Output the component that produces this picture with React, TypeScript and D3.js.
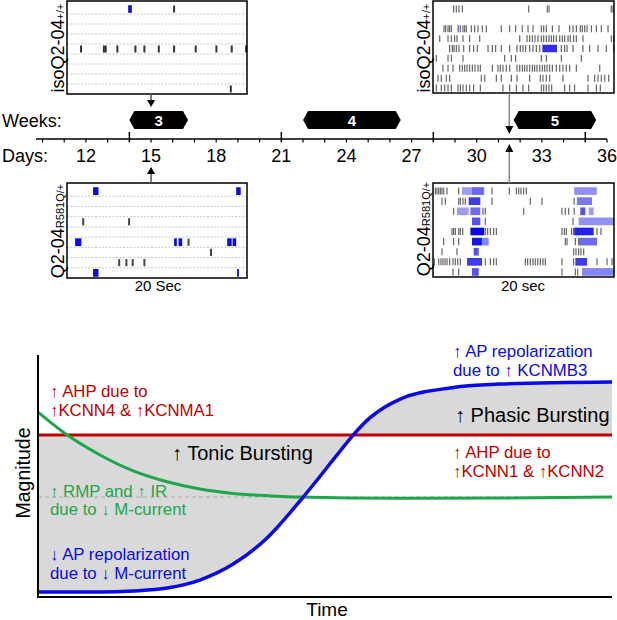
import * as d3 from 'd3'

const FONT = 'Arial, "Liberation Sans", sans-serif'

// ---- timeline ----
const dayLabels = [12, 15, 18, 21, 24, 27, 30, 33, 36]
const weekBounds = [14, 21, 28, 35]
const weekNums = ['3', '4', '5']
const weekStart = [14, 22, 31.7]
const weekEnd = [16.7, 26.5, 35.5]
const recordDays = [15, 31.5]

// ---- rasters (spike times in sec, 9 sweeps each) ----
const tlTicks: number[][] = [
  [11.9], [], [], [],
  [1.56, 4.1, 4.3, 5.6, 7.6, 8.6, 10.2, 11.9, 14.3, 16.6, 18.3, 19.9],
  [], [], [], [18.2],
]
const tlBursts: number[][][] = [[[6.8, 7.2, 1]], [], [], [], [], [], [], [], []]

const blTicks: number[][] = [
  [], [], [], [1.8, 6.9], [], [13.5], [16.0], [5.8, 6.6, 7.3, 8.6], [],
]
const blBursts: number[][][] = [
  [[2.9, 3.5, 1], [18.8, 19.3, 1]],
  [], [], [], [],
  [[0.9, 1.6, 1], [11.9, 12.2, 1], [12.4, 12.8, 1], [17.8, 18.3, 1], [18.4, 18.8, 1]],
  [], [],
  [[2.9, 3.5, 1], [18.9, 19.1, 1]],
]

const trTicks: number[][] = [
  [2.28, 2.58, 2.87, 3.24, 10.57, 12.63, 12.82, 19.7, 19.89],
  [],
  [1.22, 1.4, 1.66, 1.84, 2.03, 3.02, 3.31, 3.5, 3.68, 4.24, 4.6, 4.97, 5.45, 5.89, 7.55, 8.47, 9.13, 9.87, 10.5, 11.05, 11.97, 12.23, 12.52, 13.19, 13.92, 15.1, 15.47, 15.84, 16.28, 16.5, 16.76, 17.02, 17.5, 18.05, 18.6, 19.34],
  [0.74, 1.66, 2.03, 2.39, 2.65, 3.31, 4.05, 5.16, 9.58, 10.39, 10.68, 10.98, 11.27, 11.6, 11.97, 12.23, 12.52, 12.82, 13.08, 13.33, 13.63, 14, 14.29, 14.55, 14.92, 15.17, 15.54, 15.84, 16.57, 19.7, 19.96],
  [1.84, 2.14, 2.32, 2.58, 2.87, 3.39, 4.05, 4.49, 4.9, 6.08, 6.56, 6.92, 7.55, 8.47, 9.28, 9.65, 9.94, 10.24, 10.68, 11.05, 11.42, 11.79, 14.18, 14.55, 14.81, 15.47, 16.57, 17.31, 18.23, 19.15, 19.96],
  [0.37, 1.66, 2.03, 3.31, 7.92, 8.66, 9.13, 11.97, 12.52, 14.18, 16.39],
  [1.1, 1.66, 2.21, 2.95, 3.24, 3.5, 3.76, 4.05, 4.35, 4.64, 4.97, 5.23, 6.56, 7.18, 7.44, 7.73, 8.1, 8.47, 9.28, 9.58, 9.87, 10.13, 10.39, 10.68, 10.98, 11.23, 11.49, 11.79, 12.08, 12.34, 12.6, 12.89, 13.19, 13.63, 14, 14.36, 14.73, 15.1, 15.84, 18.42],
  [0.55, 0.92, 1.47, 1.84, 5.34, 5.71, 7.0, 7.55, 8.66, 9.28, 10.68, 11.86, 12.15, 12.52, 12.89, 14.36, 17.13, 17.86, 18.23, 18.6, 18.97, 19.41],
  [0.37, 0.92, 1.29, 1.66, 2.03, 2.76, 3.02, 3.31, 3.68, 4.05, 4.49, 5.23, 7.73, 8.47, 9.21, 9.94, 10.57, 11.97, 12.23, 12.52, 12.82, 13.11, 14.55, 15.1, 15.65, 17.13, 18.05, 18.49],
]
const trBursts: number[][][] = [
  [], [], [[2.72, 2.82, 0.9]], [],
  [[12.08, 13.7, 0.85]],
  [], [], [], [],
]

const brTicks: number[][] = [
  [0.26, 0.44, 0.63, 0.81, 0.99, 1.18, 1.55, 2.84, 6.52, 8.43, 9.21, 9.47, 9.72, 10.02, 10.31],
  [0.99, 1.36, 2.84, 3.02, 3.31, 3.57, 6.52, 10.75, 12.04, 15.6],
  [2.28, 5.52, 5.78, 10.02, 14.25, 14.62, 14.99, 15.6],
  [5.78, 15.47],
  [2.1, 2.28, 2.47, 2.84, 3.02, 3.28, 5.78, 6.04, 6.34, 6.7, 7.0, 14.25, 14.51, 14.73, 15.32, 15.54, 18.12, 18.56],
  [1.18, 2.28, 2.84, 14.62, 14.81, 15.73, 16.1],
  [0.99, 2.65, 15.54, 15.8, 16.1, 16.35, 16.65],
  [0.15, 0.63, 0.88, 1.1, 1.33, 1.55, 1.84, 2.21, 2.47, 2.73, 3.02, 5.78, 6.34, 6.7, 7.0, 10.2, 10.46, 10.75, 11.05, 11.3, 11.57, 11.86, 12.15, 12.41, 14.25, 15.54, 18.12, 19.23, 19.78],
  [2.21, 2.84, 14.25, 15.73, 15.99],
]
const brBursts: number[][][] = [
  [[3.2, 5.67, 0.4], [4.31, 5.6, 0.35], [15.6, 18.1, 0.45]],
  [[3.94, 5.23, 0.8], [15.9, 17.57, 0.55]],
  [[2.65, 3.94, 0.4], [4.13, 5.23, 0.6], [16.28, 16.83, 0.7], [17.2, 17.75, 0.4]],
  [[4.31, 5.23, 0.7], [16.1, 20.0, 0.45]],
  [[4.13, 5.67, 1], [15.6, 17.75, 0.9]],
  [[4.31, 5.4, 0.95], [5.4, 6.15, 0.5], [16.1, 18.12, 0.6]],
  [[4.49, 5.05, 0.7]],
  [[3.76, 5.41, 0.8], [15.73, 17.02, 0.8]],
  [[4.31, 5.05, 0.7], [16.46, 20.0, 0.5]],
]

// ---- schematic (time 0-100, magnitude 0-100) ----
const ahpLevel = 66.9
const rmpLevel = 41.3
const blueT = [0, 10.8, 16.6, 22.5, 28.2, 34.0, 39.9, 46.2, 52.1, 54.9, 57.8, 63.1, 71.8, 80.5, 100]
const blueM = [2.1, 2.1, 2.5, 3.7, 7.0, 13.6, 24.4, 41.3, 58.7, 66.9, 74.0, 81.8, 86.4, 88.0, 88.8]
const greenT = [0, 5.1, 10.8, 16.6, 22.5, 28.2, 34.0, 39.9, 45.6, 63.1, 80.5, 100]
const greenM = [76.4, 66.9, 58.7, 52.1, 47.6, 44.6, 42.8, 41.9, 41.3, 40.8, 40.9, 41.3]

function Raster(props: {
  x: number; y: number; w: number; h: number
  ticks: number[][]; bursts: number[][][]; grid: boolean
  tickColor: string; tickW: number
}) {
  const { x, y, w, h, ticks, bursts, grid, tickColor, tickW } = props
  const sx = d3.scaleLinear([0, 20], [0, w])
  const rows = d3.scaleBand<number>(d3.range(9), [3, h])
  const bw = rows.bandwidth()
  return (
    <g transform={`translate(${x},${y})`}>
      <rect width={w} height={h} fill="#fff" />
      {grid && rows.domain().slice(1).map(r => (
        <line key={r} x1={0} x2={w} y1={rows(r)} y2={rows(r)} stroke="#bbb" strokeWidth={0.8} strokeDasharray="2,1.5" />
      ))}
      {bursts.map((row, r) => row.map((b, i) => (
        <rect key={`b${r}-${i}`} x={sx(b[0])} width={Math.max(1, sx(b[1]) - sx(b[0]))}
          y={rows(r)! + bw * 0.12} height={bw * 0.76} fill="#0a0ae6" fillOpacity={b[2]} />
      )))}
      {ticks.map((row, r) => row.map((t, i) => (
        <line key={`t${r}-${i}`} x1={sx(t)} x2={sx(t)} y1={rows(r)! + bw * 0.15} y2={rows(r)! + bw * 0.85}
          stroke={tickColor} strokeWidth={tickW} />
      )))}
      <rect width={w} height={h} fill="none" stroke="#000" strokeWidth={1.5} />
    </g>
  )
}

function RowLabel({ x, y, main, sup }: { x: number; y: number; main: string; sup: string }) {
  return (
    <text transform={`translate(${x},${y}) rotate(-90)`} textAnchor="middle" fontFamily={FONT} fontSize={18} fill="#000">
      {main}<tspan fontSize={11}>{sup}</tspan>
    </text>
  )
}

export default function App() {
  const dayX = d3.scaleLinear([9.7, 36], [36, 607])
  const axisY = 139
  const minorDays = d3.range(10, 37).filter(d => !weekBounds.includes(d))

  const xT = d3.scaleLinear([0, 100], [38, 612])
  const yM = d3.scaleLinear([0, 100], [597, 355])
  const bluePts = blueT.map((t, i) => [t, blueM[i]] as [number, number])
  const greenPts = greenT.map((t, i) => [t, greenM[i]] as [number, number])
  const line = d3.line<[number, number]>().x(d => xT(d[0])).y(d => yM(d[1])).curve(d3.curveMonotoneX)
  const area = d3.area<[number, number]>().x(d => xT(d[0])).y0(yM(ahpLevel)).y1(d => yM(d[1])).curve(d3.curveMonotoneX)

  const red = '#c00000'
  const green = '#1ea64c'
  const blue = '#0a0ae6'

  return (
    <svg width={617} height={620} style={{ position: 'absolute', left: 0, top: 0, background: '#fff' }}>
      {/* rasters */}
      <Raster x={67} y={1} w={180} h={93} ticks={tlTicks} bursts={tlBursts} grid tickColor="#333" tickW={2} />
      <Raster x={433} y={1} w={181} h={92} ticks={trTicks} bursts={trBursts} grid={false} tickColor="#666" tickW={1.2} />
      <Raster x={67} y={183} w={180} h={95} ticks={blTicks} bursts={blBursts} grid tickColor="#444" tickW={2} />
      <Raster x={433} y={183} w={181} h={94} ticks={brTicks} bursts={brBursts} grid={false} tickColor="#666" tickW={1.2} />
      <RowLabel x={64} y={48} main="isoQ2-04" sup="+/+" />
      <RowLabel x={430} y={48} main="isoQ2-04" sup="+/+" />
      <RowLabel x={64} y={231} main="Q2-04" sup="R581Q/+" />
      <RowLabel x={430} y={229} main="Q2-04" sup="R581Q/+" />
      <text x={158} y={291} textAnchor="middle" fontFamily={FONT} fontSize={15}>20 Sec</text>
      <text x={523} y={291} textAnchor="middle" fontFamily={FONT} fontSize={15}>20 sec</text>

      {/* recording-day arrows */}
      {recordDays.map((d, i) => {
        const cx = dayX(d)
        const col = i === 0 ? '#555' : '#888'
        return (
          <g key={d}>
            <line x1={cx} x2={cx} y1={i === 0 ? 94 : 93} y2={i === 0 ? 101 : 127} stroke={col} strokeWidth={1.5} />
            <path d={`M${cx - 4},${i === 0 ? 100 : 126} L${cx + 4},${i === 0 ? 100 : 126} L${cx},${i === 0 ? 107 : 134} Z`} fill="#000" />
            <line x1={cx} x2={cx} y1={i === 0 ? 173 : 151} y2={183} stroke={col} strokeWidth={1.5} />
            <path d={`M${cx - 4},${i === 0 ? 174 : 152} L${cx + 4},${i === 0 ? 174 : 152} L${cx},${i === 0 ? 167 : 144} Z`} fill="#000" />
          </g>
        )
      })}

      {/* timeline */}
      <text x={2} y={127} fontFamily={FONT} fontSize={18}>Weeks:</text>
      <text x={2} y={162} fontFamily={FONT} fontSize={18}>Days:</text>
      {weekNums.map((n, i) => {
        const x0 = dayX(weekStart[i]), x1 = dayX(weekEnd[i])
        const yt = 111, yb = 129, ym = 120
        return (
          <g key={n}>
            <path d={`M${x0},${ym} L${x0 + 5},${yt} L${x1 - 5},${yt} L${x1},${ym} L${x1 - 5},${yb} L${x0 + 5},${yb} Z`} fill="#000" />
            <text x={(x0 + x1) / 2} y={125.5} textAnchor="middle" fontFamily={FONT} fontSize={15} fontWeight="bold" fill="#fff">{n}</text>
          </g>
        )
      })}
      <line x1={36} x2={607} y1={axisY} y2={axisY} stroke="#000" strokeWidth={1.5} />
      {minorDays.map(d => (
        <line key={d} x1={dayX(d)} x2={dayX(d)} y1={axisY} y2={axisY + 3.5} stroke="#000" strokeWidth={1.2} />
      ))}
      {weekBounds.map(d => (
        <line key={d} x1={dayX(d)} x2={dayX(d)} y1={axisY - 7} y2={axisY + 3.5} stroke="#000" strokeWidth={1.5} />
      ))}
      {dayLabels.map(d => (
        <text key={d} x={dayX(d)} y={162} textAnchor="middle" fontFamily={FONT} fontSize={18}>{d}</text>
      ))}

      {/* schematic */}
      <path d={area(bluePts)!} fill="#d9d9d9" />
      <line x1={xT(0)} x2={xT(100)} y1={yM(rmpLevel)} y2={yM(rmpLevel)} stroke="#aaa" strokeWidth={1} strokeDasharray="4,3" />
      <line x1={xT(0)} x2={xT(100)} y1={yM(ahpLevel)} y2={yM(ahpLevel)} stroke={red} strokeWidth={3} />
      <path d={line(greenPts)!} fill="none" stroke={green} strokeWidth={3} />
      <path d={line(bluePts)!} fill="none" stroke={blue} strokeWidth={3.5} />
      <line x1={38} x2={38} y1={355} y2={598} stroke="#000" strokeWidth={2} />
      <line x1={37} x2={612} y1={597} y2={597} stroke="#000" strokeWidth={2} />
      <text transform="translate(30,473) rotate(-90)" textAnchor="middle" fontFamily={FONT} fontSize={19.5}>Magnitude</text>
      <text x={327} y={616} textAnchor="middle" fontFamily={FONT} fontSize={19}>Time</text>

      <g fontFamily={FONT} fontSize={16.8}>
        <text x={50} y={397} fill={red}>↑ AHP due to</text>
        <text x={50} y={416} fill={red}>↑KCNN4 &amp; ↑KCNMA1</text>
        <text x={50} y={497} fill={green}>↑ RMP and ↑ IR</text>
        <text x={50} y={515} fill={green}>due to ↓ M-current</text>
        <text x={50} y={560} fill={blue}>↓ AP repolarization</text>
        <text x={50} y={579} fill={blue}>due to ↓ M-current</text>
        <text x={453} y={357} fill={blue}>↑ AP repolarization</text>
        <text x={453} y={376} fill={blue}>due to ↑ KCNMB3</text>
        <text x={453} y={458} fill={red}>↑ AHP due to</text>
        <text x={453} y={477} fill={red}>↑KCNN1 &amp; ↑KCNN2</text>
      </g>
      <text x={172} y={460} fontFamily={FONT} fontSize={20}><tspan fontWeight="bold">↑</tspan> Tonic Bursting</text>
      <text x={455} y={422} fontFamily={FONT} fontSize={20}><tspan fontWeight="bold">↑</tspan> Phasic Bursting</text>
    </svg>
  )
}
